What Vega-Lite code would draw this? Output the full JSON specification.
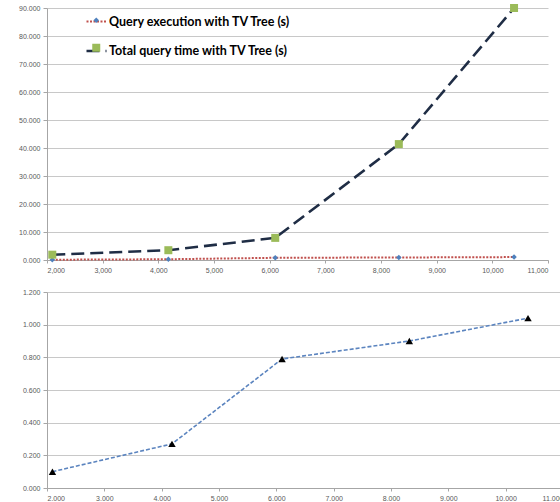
{
  "$schema": "https://vega.github.io/schema/vega-lite/v6.json",
  "padding": {"left": 0, "top": 2, "right": 0, "bottom": 0},
  "background": "white",
  "spacing": 15,
  "datasets": {
    "top": [
      {"size": 2095, "series": "Query execution with TV Tree (s)", "time": 0.10},
      {"size": 4180, "series": "Query execution with TV Tree (s)", "time": 0.27},
      {"size": 6100, "series": "Query execution with TV Tree (s)", "time": 0.79},
      {"size": 8320, "series": "Query execution with TV Tree (s)", "time": 0.90},
      {"size": 10390, "series": "Query execution with TV Tree (s)", "time": 1.04},
      {"size": 2095, "series": "Total query time with TV Tree (s)", "time": 1.9},
      {"size": 4180, "series": "Total query time with TV Tree (s)", "time": 3.5},
      {"size": 6100, "series": "Total query time with TV Tree (s)", "time": 7.9},
      {"size": 8320, "series": "Total query time with TV Tree (s)", "time": 41.4},
      {"size": 10390, "series": "Total query time with TV Tree (s)", "time": 90.0}
    ],
    "bottom": [
      {"size": 2095, "time": 0.10},
      {"size": 4180, "time": 0.27},
      {"size": 6100, "time": 0.79},
      {"size": 8320, "time": 0.90},
      {"size": 10390, "time": 1.04}
    ]
  },
  "config": {
    "view": {"stroke": null},
    "axis": {
      "labelFont": "Liberation Sans",
      "labelFontSize": 7,
      "labelColor": "#595959",
      "domainColor": "#a6a6a6",
      "tickColor": "#a6a6a6",
      "gridColor": "#c8c8c8",
      "title": null
    },
    "legend": {
      "labelFont": "Lato",
      "labelFontWeight": "bold",
      "labelFontSize": 12.5,
      "labelColor": "#000000",
      "labelLimit": 0,
      "title": null,
      "padding": 0
    }
  },
  "vconcat": [
    {
      "width": 501,
      "height": 252,
      "data": {"name": "top"},
      "encoding": {
        "x": {
          "field": "size", "type": "quantitative",
          "scale": {"domain": [2000, 11000], "nice": false, "zero": false},
          "axis": {"values": [2000, 3000, 4000, 5000, 6000, 7000, 8000, 9000, 10000, 11000], "format": ",.0f", "grid": false, "tickSize": 3, "labelPadding": 3}
        },
        "y": {
          "field": "time", "type": "quantitative",
          "scale": {"domain": [0, 90], "nice": false},
          "axis": {"values": [0, 10, 20, 30, 40, 50, 60, 70, 80, 90], "format": ".3f", "grid": true, "tickSize": 4, "labelPadding": 3, "minExtent": 47, "maxExtent": 47}
        }
      },
      "layer": [
        {
          "mark": {"type": "line"},
          "encoding": {
            "stroke": {
              "field": "series", "type": "nominal",
              "scale": {"domain": ["Query execution with TV Tree (s)", "Total query time with TV Tree (s)"], "range": ["#c0504d", "#1f2d45"]},
              "legend": {
                "orient": "none", "legendX": 38, "legendY": 2.5,
                "symbolType": "M-1,-1M1,1M-1,0L1,0", "symbolSize": 400, "symbolStrokeWidth": 2,
                "rowPadding": 0, "labelOffset": 1,
                "encode": {
                  "symbols": {"update": {
                    "strokeDash": {"signal": "datum.value === 'Total query time with TV Tree (s)' ? [7, 13] : [2, 1]"},
                    "strokeWidth": {"signal": "datum.value === 'Total query time with TV Tree (s)' ? 3 : 1.5"},
                    "fill": {"value": "transparent"}
                  }}
                }
              }
            },
            "strokeDash": {
              "field": "series", "type": "nominal",
              "scale": {"domain": ["Query execution with TV Tree (s)", "Total query time with TV Tree (s)"], "range": [[2, 1.5], [13, 6]]},
              "legend": null
            },
            "strokeWidth": {
              "field": "series", "type": "ordinal",
              "scale": {"domain": ["Query execution with TV Tree (s)", "Total query time with TV Tree (s)"], "range": [2, 2.6]},
              "legend": null
            }
          }
        },
        {
          "mark": {"type": "point", "filled": true, "opacity": 1},
          "encoding": {
            "color": {
              "field": "series", "type": "nominal",
              "scale": {"range": ["#4f81bd", "#9bbb59"]},
              "legend": {
                "orient": "none", "legendX": 43, "legendY": 6,
                "symbolSize": 400, "rowPadding": 14.5, "labelOffset": 2,
                "labelOpacity": 0,
                "labelExpr": "' '",
                "encode": {
                  "symbols": {"update": {
                    "shape": {"signal": "datum.value === 'Total query time with TV Tree (s)' ? 'M-1,-1M1,1M-0.35,-0.35L0.35,-0.35L0.35,0.35L-0.35,0.35Z' : 'M-1,-1M1,1M0,-0.3L0.3,0L0,0.3L-0.3,0Z'"},
                    "strokeWidth": {"value": 0}
                  }}
                }
              }
            },
            "shape": {
              "field": "series", "type": "nominal",
              "scale": {"range": ["diamond", "square"]}
            },
            "size": {
              "field": "series", "type": "ordinal",
              "scale": {"range": [30, 64]},
              "legend": null
            }
          }
        }
      ]
    },
    {
      "width": 516,
      "height": 196,
      "data": {"name": "bottom"},
      "encoding": {
        "x": {
          "field": "size", "type": "quantitative",
          "scale": {"domain": [2000, 11000], "nice": false, "zero": false},
          "axis": {"values": [2000, 3000, 4000, 5000, 6000, 7000, 8000, 9000, 10000, 11000], "labelExpr": "replace(format(datum.value, ',.0f'), ',', '.')", "grid": false, "tickSize": 3, "labelPadding": 3}
        },
        "y": {
          "field": "time", "type": "quantitative",
          "scale": {"domain": [0, 1.2], "nice": false},
          "axis": {"values": [0, 0.2, 0.4, 0.6, 0.8, 1.0, 1.2], "format": ".3f", "grid": true, "tickSize": 4, "labelPadding": 3, "minExtent": 37, "maxExtent": 37}
        }
      },
      "layer": [
        {
          "mark": {"type": "line", "stroke": "#5b84bf", "strokeDash": [4, 2], "strokeWidth": 1.6}
        },
        {
          "mark": {"type": "point", "shape": "triangle-up", "filled": true, "color": "#000000", "opacity": 1, "size": 55}
        }
      ]
    }
  ]
}
